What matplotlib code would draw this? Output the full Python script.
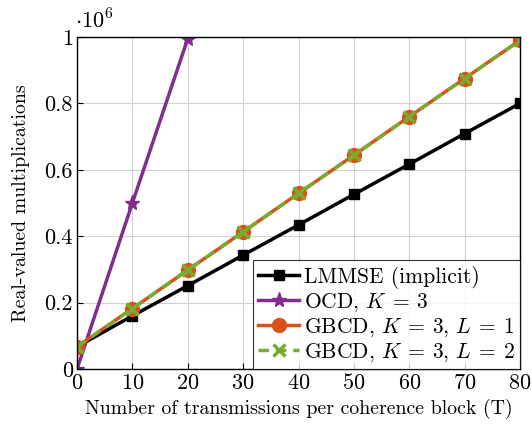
import matplotlib
matplotlib.use("Agg")
import matplotlib.pyplot as plt

plt.rcParams['font.family'] = ['cmr10']
plt.rcParams['mathtext.fontset'] = 'cm'
plt.rcParams['axes.formatter.use_mathtext'] = True

# data (in units of 1e6)
T = [0, 10, 20, 30, 40, 50, 60, 70, 80]
lmmse = [0.067, 0.160, 0.251, 0.343, 0.434, 0.526, 0.617, 0.709, 0.800]
T_ocd = [0, 10, 20]
ocd = [0.0, 0.5, 0.995]
gbcd1 = [0.067, 0.182, 0.298, 0.413, 0.529, 0.644, 0.760, 0.875, 0.990]
gbcd2 = [0.067, 0.182, 0.298, 0.413, 0.529, 0.644, 0.760, 0.875, 0.990]

fig = plt.figure(figsize=(5.32, 4.26), dpi=100)
ax = fig.add_axes([77 / 532, 57 / 426, 443 / 532, 332 / 426])

ax.plot(T, lmmse, color='black', lw=2.5, marker='s', ms=7, label='LMMSE (implicit)')
ax.plot(T_ocd, ocd, color='#7E2F8E', lw=2.5, marker='*', ms=11, label=r'OCD, $K\:=\:3$')
ax.plot(T, gbcd1, color='#D95319', lw=2.5, marker='o', ms=10, label=r'GBCD, $K\:=\:3,\,L\:=\:1$')
ax.plot(T, gbcd2, color='#77AC30', lw=2.5, ls=(0, (3, 2)), marker='x', ms=8, mew=2.5,
        label=r'GBCD, $K\:=\:3,\,L\:=\:2$')

ax.set_xlim(0, 80)
ax.set_ylim(0, 1)
ax.set_xticks(range(0, 81, 10))
ax.set_yticks([0, 0.2, 0.4, 0.6, 0.8, 1])
ax.set_yticklabels(['0', '0.2', '0.4', '0.6', '0.8', '1'])
ax.tick_params(labelsize=16, direction='in', length=4, pad=3)
ax.grid(True, color='#d0d0d0', lw=0.8)
ax.set_axisbelow(True)
for s in ax.spines.values():
    s.set_linewidth(1.0)

ax.set_xlabel('Number of transmissions per coherence block (T)', fontsize=14.3, labelpad=4)
ax.set_ylabel('Real-valued multiplications', fontsize=14.3, labelpad=10)
ax.text(-0.005, 1.015, r'$\cdot10^6$', transform=ax.transAxes, fontsize=16, ha='left', va='bottom')

leg = ax.legend(loc='lower right', fontsize=15.5, frameon=True, fancybox=False,
                edgecolor='black', handlelength=1.9, handletextpad=0.2,
                borderpad=0.25, labelspacing=0.1, borderaxespad=0.0)
leg.get_frame().set_linewidth(0.8)

fig.savefig('out.png', dpi=100)
